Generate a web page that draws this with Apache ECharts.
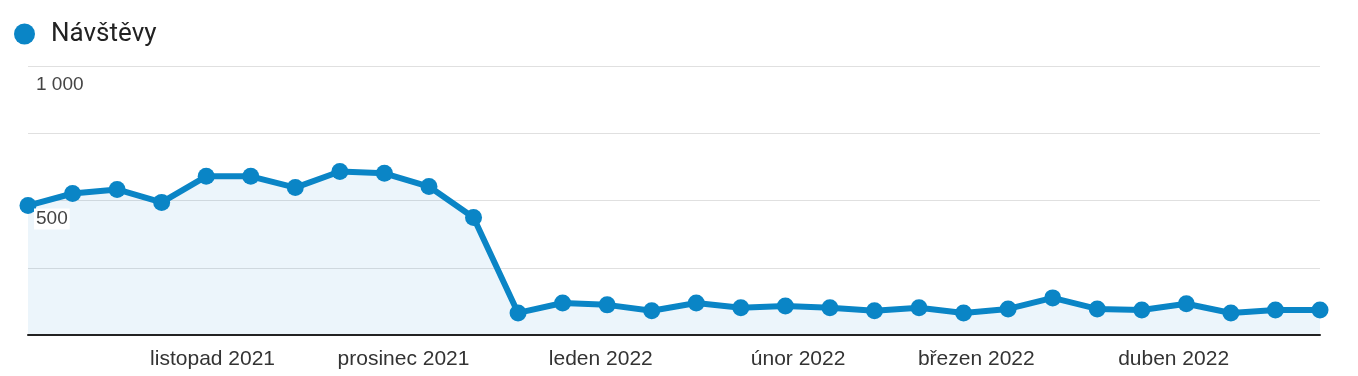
<!DOCTYPE html>
<html>
<head>
<meta charset="utf-8">
<script src="https://cdn.jsdelivr.net/npm/echarts@6/dist/echarts.min.js"></script>
<style>
  html, body { margin: 0; padding: 0; background: #fff; }
  #chart { width: 1358px; height: 376px; }
</style>
</head>
<body>
<div id="chart"></div>
<script>
// weekly visits, first week starts 3 Oct 2021
const weeks = [
  '2021-10-03', '2021-10-10', '2021-10-17', '2021-10-24', '2021-10-31',
  '2021-11-07', '2021-11-14', '2021-11-21', '2021-11-28', '2021-12-05',
  '2021-12-12', '2021-12-19', '2021-12-26', '2022-01-02', '2022-01-09',
  '2022-01-16', '2022-01-23', '2022-01-30', '2022-02-06', '2022-02-13',
  '2022-02-20', '2022-02-27', '2022-03-06', '2022-03-13', '2022-03-20',
  '2022-03-27', '2022-04-03', '2022-04-10', '2022-04-17', '2022-04-24'
]
const visits = [
  481, 526, 541, 493, 590, 590, 548, 608, 601, 552,
  437, 82, 119, 112, 90, 119, 101, 108, 101, 90,
  101, 82, 97, 138, 97, 93, 116, 82, 93, 93
]
const monthStarts = ['2021-11-01', '2021-12-01', '2022-01-01', '2022-02-01', '2022-03-01', '2022-04-01']
const monthLabels = ['listopad 2021', 'prosinec 2021', 'leden 2022', 'únor 2022', 'březen 2022', 'duben 2022']
const yLabels = { 500: '500', 1000: '1 000' }

const seriesName = 'Návštěvy'
const blue = '#0a85c6'

// x is days since the first week
const DAY = 86400000
const t0 = Date.parse(weeks[0] + 'T00:00:00Z')
const toDay = d => Math.round((Date.parse(d + 'T00:00:00Z') - t0) / DAY)
const monthDays = monthStarts.map(toDay)

let myChart = echarts.init(document.getElementById('chart'))

let option = {
  animation: false,
  legend: {
    left: 9,
    top: 16,
    icon: 'circle',
    itemWidth: 21,
    itemHeight: 21,
    textStyle: { fontFamily: 'Roboto', fontSize: 26, color: '#222', padding: [0, 0, 0, 11] },
    data: [seriesName]
  },
  grid: { left: 28, right: 38, top: 66, bottom: 41, containLabel: false },
  xAxis: {
    type: 'value',
    min: 0,
    max: toDay(weeks[weeks.length - 1]),
    z: 5,
    axisLine: { show: true, lineStyle: { color: '#222', width: 2 } },
    axisTick: { show: false },
    splitLine: { show: false },
    axisLabel: {
      customValues: monthDays,
      formatter: function (val) {
        const i = monthDays.indexOf(val)
        return i >= 0 ? monthLabels[i] : ''
      },
      fontFamily: 'Liberation Sans, Arial',
      fontSize: 21,
      color: '#333',
      margin: 14
    }
  },
  yAxis: [
    {
      // gridlines
      type: 'value',
      min: 0,
      max: 1000,
      interval: 250,
      axisLine: { show: false },
      axisTick: { show: false },
      axisLabel: { show: false },
      splitLine: { lineStyle: { color: '#e0e0e0', width: 1 } }
    },
    {
      // labels drawn above the line
      type: 'value',
      position: 'left',
      min: 0,
      max: 1000,
      interval: 250,
      z: 10,
      axisLine: { show: false },
      axisTick: { show: false },
      splitLine: { show: false },
      axisLabel: {
        inside: true,
        margin: 6,
        verticalAlign: 'top',
        formatter: function (v) {
          return yLabels[v] ? '{s| }\n{b|' + yLabels[v] + '}' : ''
        },
        rich: {
          s: { height: 8, fontSize: 4 },
          b: {
            fontFamily: 'Liberation Sans, Arial',
            fontSize: 19,
            color: '#444',
            backgroundColor: '#fff',
            padding: [1, 2, 1, 2]
          }
        }
      }
    }
  ],
  series: [
    {
      name: seriesName,
      type: 'line',
      yAxisIndex: 0,
      data: weeks.map((w, i) => [toDay(w), visits[i]]),
      symbol: 'circle',
      symbolSize: 17,
      showAllSymbol: true,
      z: 3,
      itemStyle: { color: blue },
      lineStyle: { color: blue, width: 6 },
      areaStyle: { color: 'rgba(10,133,198,0.11)' }
    }
  ]
}

myChart.setOption(option)
</script>
</body>
</html>
